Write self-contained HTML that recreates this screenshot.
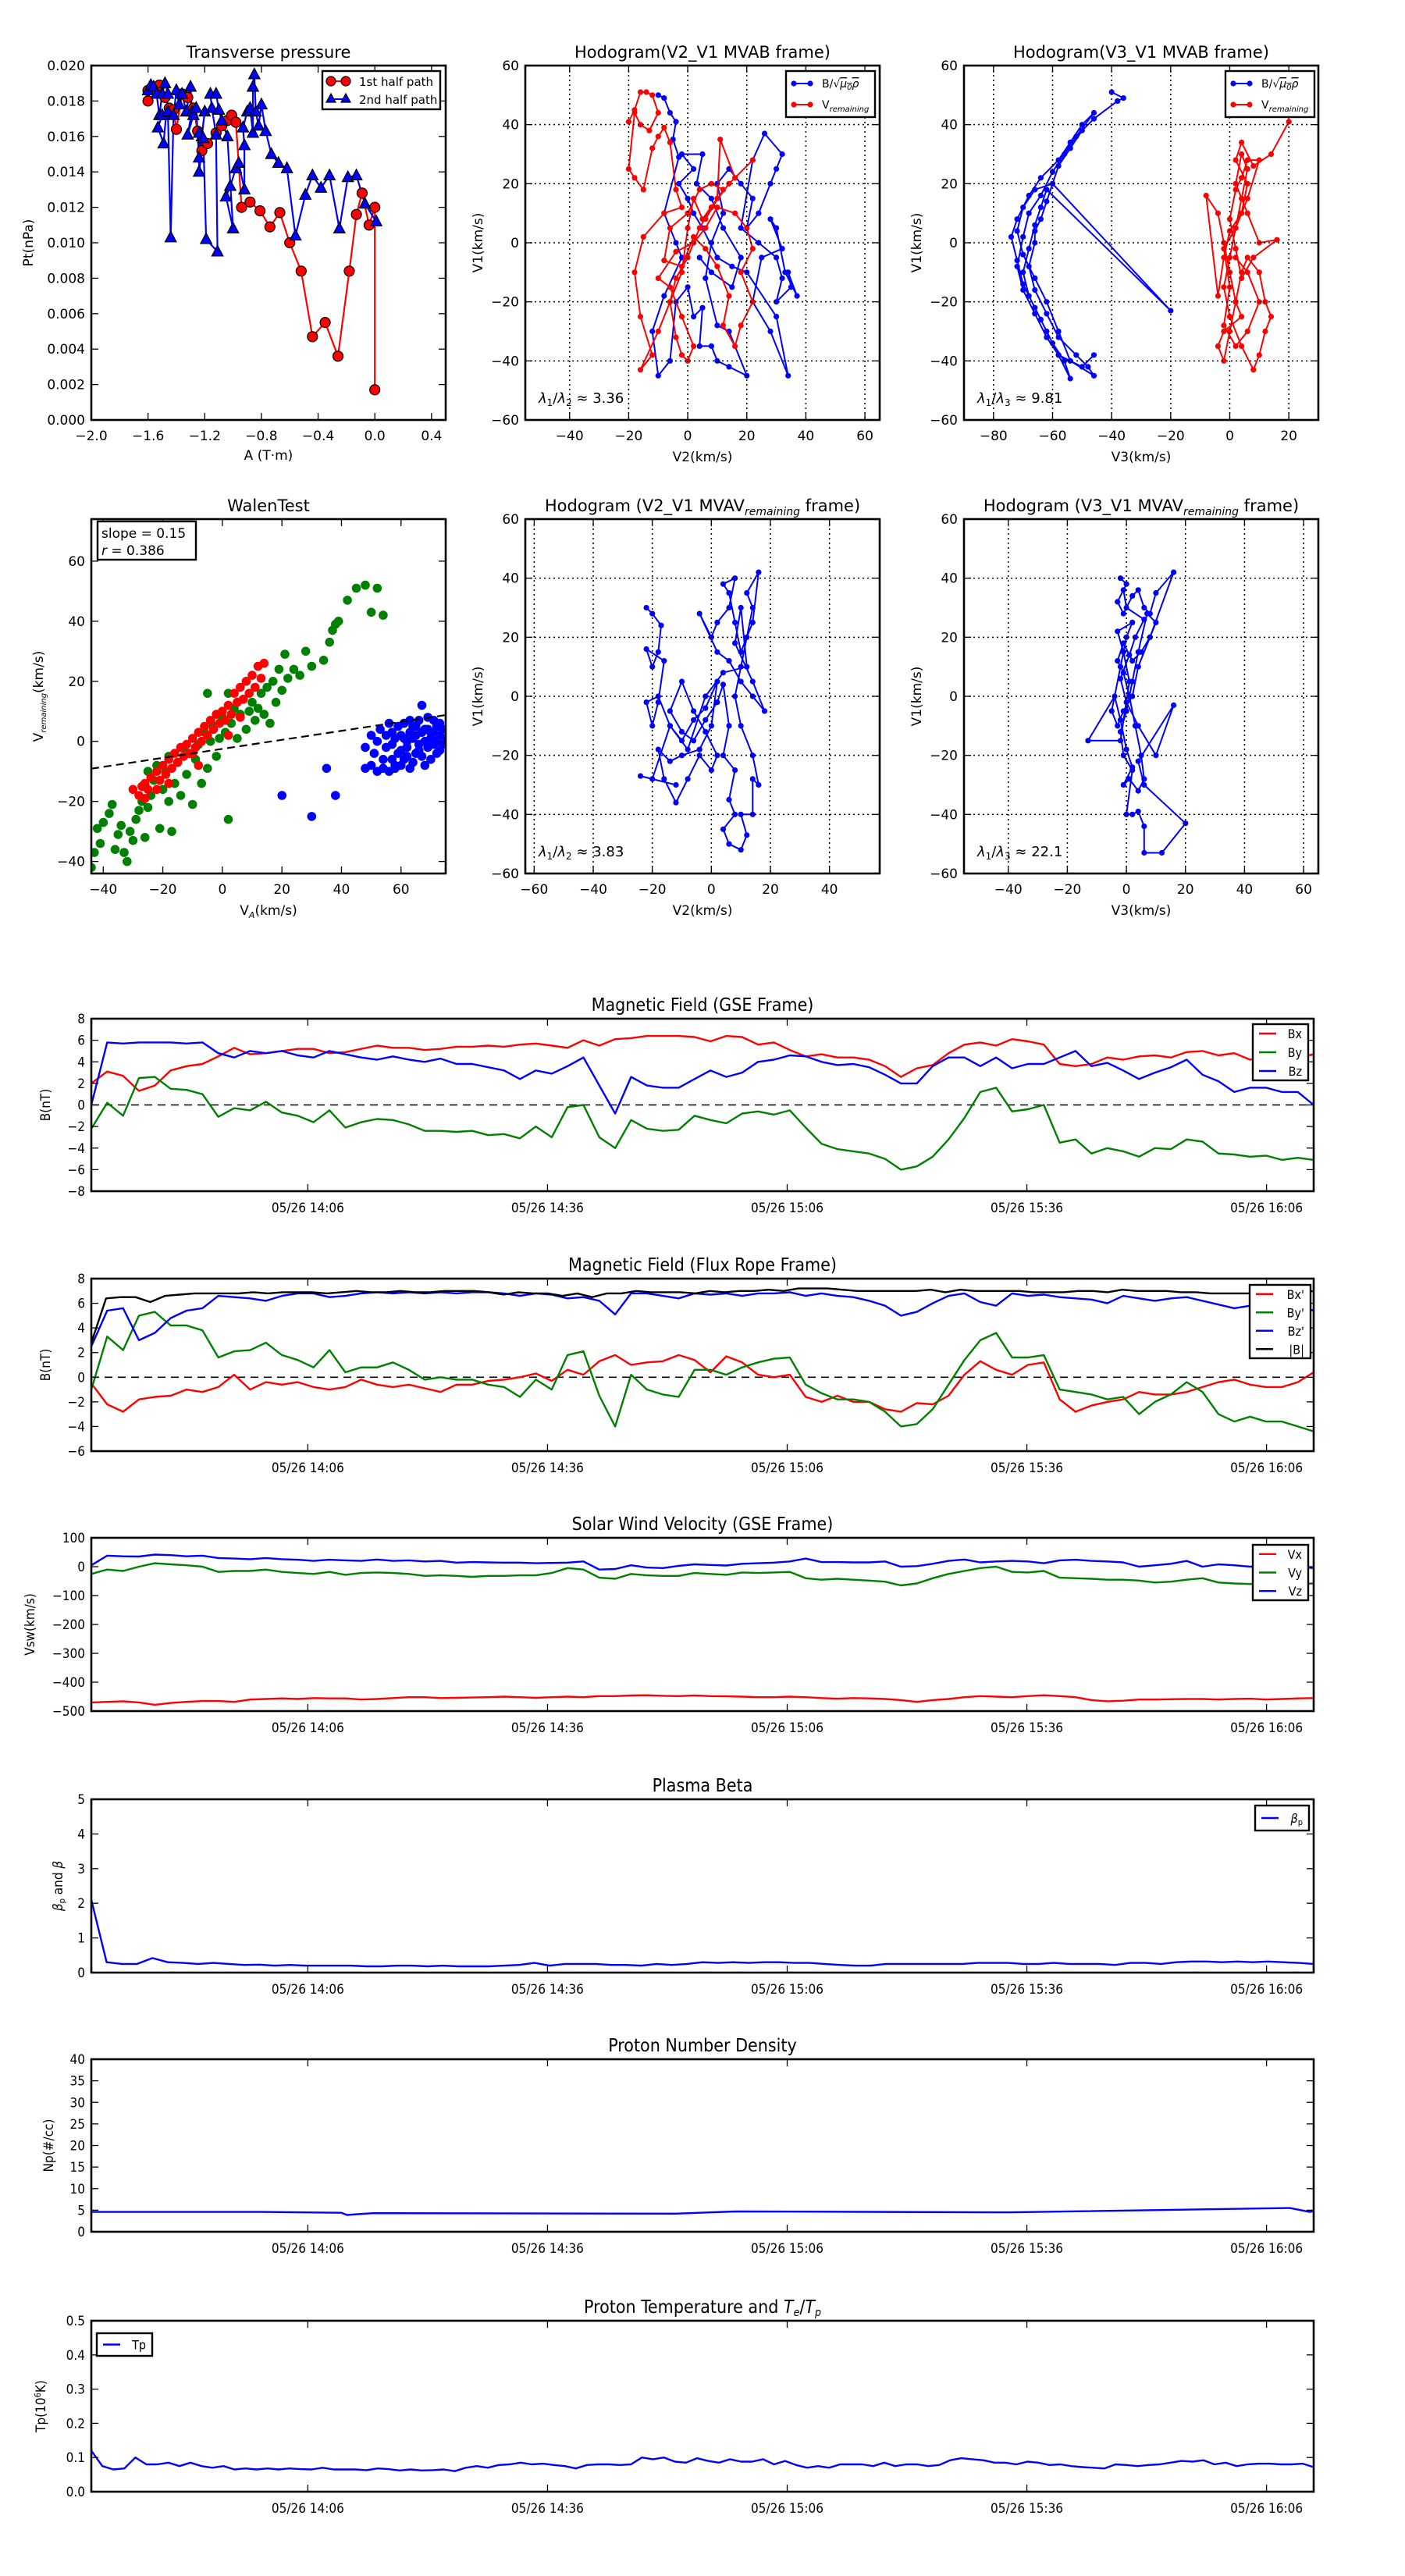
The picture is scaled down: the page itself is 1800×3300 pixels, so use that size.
<!DOCTYPE html>
<html><head><meta charset="utf-8">
<style>
html,body{margin:0;padding:0;background:#fff;}
svg{display:block;}
text{font-family:"DejaVu Sans","Liberation Sans",sans-serif;fill:#000;}
.c{font-family:"DejaVu Sans Condensed","DejaVu Sans","Liberation Sans",sans-serif;}
</style></head>
<body>
<svg id="fig" xmlns="http://www.w3.org/2000/svg" width="1800" height="3300" viewBox="0 0 1800 3300">
<rect x="0" y="0" width="1800" height="3300" fill="#fff"/>
</svg>
<script>
// ---------------- DATA ----------------
// Transverse pressure (A in T·m, Pt in 1e-3 nPa)
const tp1A=[-1.6,-1.6,-1.52,-1.48,-1.45,-1.42,-1.40,-1.36,-1.32,-1.28,-1.25,-1.22,-1.18,-1.12,-1.08,-1.04,-1.01,-0.98,-0.94,-0.88,-0.81,-0.74,-0.67,-0.60,-0.52,-0.44,-0.35,-0.26,-0.18,-0.13,-0.09,-0.04,0.0,0.0];
const tp1P=[18.0,18.6,18.9,18.2,17.6,17.5,16.4,18.4,18.2,17.6,16.3,15.2,15.6,16.2,16.6,16.9,17.2,16.8,12.0,12.3,11.8,10.9,11.7,10.0,8.4,4.7,5.5,3.6,8.4,11.6,12.8,11.0,12.0,1.7];
const tp2A=[-1.6,-1.58,-1.56,-1.54,-1.52,-1.50,-1.48,-1.46,-1.49,-1.53,-1.50,-1.46,-1.44,-1.42,-1.40,-1.38,-1.36,-1.33,-1.30,-1.29,-1.32,-1.28,-1.26,-1.24,-1.20,-1.22,-1.24,-1.24,-1.21,-1.19,-1.11,-1.12,-1.15,-1.16,-1.12,-1.10,-1.08,-1.04,-1.00,-1.05,-1.02,-0.98,-0.96,-0.92,-0.92,-0.93,-0.90,-0.88,-0.86,-0.86,-0.85,-0.84,-0.82,-0.80,-0.77,-0.73,-0.68,-0.62,-0.56,-0.49,-0.44,-0.38,-0.32,-0.25,-0.19,-0.13,-0.07,0.01];
const tp2P=[18.6,18.9,18.8,18.4,17.2,18.4,19.0,18.4,15.6,16.5,17.2,17.4,10.3,17.2,18.6,17.8,18.4,17.4,18.8,17.4,16.1,17.2,17.6,14.8,17.4,16.0,16.2,14.0,15.9,10.2,9.5,16.1,17.6,18.4,18.4,17.5,16.9,16.0,10.8,12.6,13.2,14.2,14.5,13.0,15.5,16.5,17.4,17.6,16.2,18.8,19.5,17.4,16.6,17.8,16.3,15.0,14.5,14.2,10.4,12.7,13.8,13.1,13.8,10.8,13.7,13.8,12.2,11.2];
// Hodogram V2-V1 MVAB
const hAbx=[-10,-8,-6,-4,-5,-3,-8,-4,-2,-8,-12,-10,-6,-4,0,2,5,4,8,10,14,20,14,10,6,8,12,10,14,18,22,20,24,28,30,32,26,22,18,24,30,32,30,35,34,37,33,30,28,32,25,22,28,34,30,20,15,10,5,2,0,-3,2,-2,5,3,8,12,18,15,8,4];
const hAby=[50,49,44,41,35,29,10,0,-5,-18,-30,-45,-40,-20,-15,-25,-22,-35,-35,-40,-42,-45,-30,-28,-12,0,10,20,25,20,15,5,10,20,25,30,37,28,5,0,-5,-12,-20,-15,-10,-18,-10,5,8,-2,-5,-20,-30,-45,-25,-10,-8,-5,5,10,15,20,25,30,30,20,15,5,-5,-15,-10,-5];
const hAvx=[-20,-18,-16,-14,-12,-10,-13,-16,-18,-20,-18,-15,-12,-10,-8,-6,-4,-2,-8,-15,-18,-16,-12,-16,-10,-6,-2,0,2,5,10,11,16,22,14,8,4,0,-4,-6,-4,-2,0,2,-2,-6,-10,-4,2,6,10,16,20,22,18,22,18,16,12,14,10,6,2,-2,-8,-6,0,4,8,12,6];
const hAvy=[41,45,51,51,50,44,38,40,44,25,22,18,32,36,39,34,18,12,10,2,-10,-25,-38,-43,-30,-20,-10,5,15,8,15,35,22,28,20,12,5,-5,-12,-20,-32,-38,-40,-35,-25,-15,-12,-3,0,5,12,10,5,-2,-10,-20,-28,-35,-28,-18,-8,-2,2,-8,-6,5,10,18,20,18,8];
// Hodogram V3-V1 MVAB
const hBbx=[-40,-36,-38,-46,-50,-54,-58,-60,-62,-64,-66,-66,-68,-66,-62,-58,-52,-48,-46,-54,-58,-62,-66,-70,-72,-70,-66,-60,-20,-62,-64,-66,-68,-70,-68,-64,-60,-56,-54,-58,-62,-66,-70,-72,-74,-72,-68,-64,-58,-54,-50,-46,-52,-56,-60,-64,-68,-70,-72,-70,-66,-62,-58,-50,-46];
const hBby=[51,49,48,42,38,32,26,20,14,8,4,0,-8,-16,-24,-32,-38,-42,-45,-40,-30,-20,-12,-4,4,12,18,20,-23,18,12,6,-2,-10,-18,-26,-34,-40,-46,-38,-30,-22,-14,-6,2,8,16,22,28,34,40,44,36,30,24,16,10,2,-8,-16,-24,-32,-38,-42,-38];
const hBvx=[20,14,8,4,2,6,4,0,-2,-4,-8,-4,-2,0,2,4,-2,-4,-2,0,2,4,6,10,12,14,12,10,8,4,0,-2,0,2,4,6,4,2,6,10,16,8,4,2,0,2,4,6,10,6,2,-2,0,-2,2,6,10,6,2];
const hBvy=[41,30,26,34,28,20,10,4,-5,-18,16,10,0,-10,-20,-25,-30,-35,-40,-30,-20,-10,-5,-10,-20,-25,-30,-38,-43,-35,-25,-15,-5,5,15,25,30,20,10,0,1,-5,-12,-2,8,18,22,28,28,15,5,-2,-15,-28,-35,-30,-20,-10,-5];
// Hodogram V2-V1 MVAV_remaining
const hCx=[-22,-20,-17,-18,-20,-22,-16,-18,-20,-22,-18,-14,-10,-6,-2,2,0,-4,-10,-14,-18,-16,-12,-8,-4,0,2,-2,-6,-10,-14,-10,-6,-2,2,4,6,4,8,6,8,4,6,10,12,10,14,14,16,14,10,8,10,12,14,12,16,14,10,8,6,4,8,6,2,0,-4,2,6,10,14,18,14,8,10,12,4,-2,-8,-14,-20,-24,-12];
const hCy=[30,28,24,15,10,16,12,-2,-10,-2,0,-10,-15,-8,-4,5,-10,-18,-20,-22,-18,-28,-36,-28,-20,-25,-20,-12,-5,5,-5,-12,-15,-8,-2,4,-10,-20,-25,-35,-40,-45,-50,-52,-47,-40,-40,-28,-30,-20,-10,0,10,20,30,35,42,25,15,25,35,38,40,30,25,20,28,15,12,5,0,-5,5,18,30,10,8,0,-18,-10,-28,-27,-30];
// Hodogram V3-V1 MVAV_remaining
const hDx=[-2,0,-3,-1,2,4,6,8,10,16,8,4,2,-1,-3,-5,-2,0,2,-3,-1,1,-2,-13,-4,-2,0,2,-1,1,4,6,5,3,1,-1,-3,-1,2,5,8,10,7,4,2,0,-2,-1,2,0,2,4,6,6,12,20,6,4,16,10,4,0,-2,1,3,6,0,-1];
const hDy=[40,38,32,28,34,36,30,28,35,42,20,10,0,-5,-10,-5,10,20,25,22,15,5,-15,-15,0,-8,-18,-24,-30,-28,-32,-28,-20,-10,0,8,12,18,12,15,20,25,28,15,5,-5,-12,-20,-25,-40,-40,-39,-44,-53,-53,-43,-30,-22,-3,-20,-10,-2,6,14,20,26,30,36];
// Walen test
const wRx=[-30,-28,-27,-26,-25,-24,-22,-21,-20,-19,-18,-17,-16,-15,-14,-13,-12,-11,-10,-9,-8,-7,-6,-5,-4,-3,-2,-1,0,1,2,3,4,5,6,7,8,9,10,11,12,13,14,6,-10,-18,-22,-8,2,-26];
const wRy=[-16,-18,-15,-19,-16,-12,-10,-13,-8,-11,-6,-9,-4,-7,-2,-5,-1,-4,1,-2,3,0,5,2,7,4,9,6,10,7,12,9,16,13,18,14,20,16,22,18,25,21,26,8,-4,-14,-16,-8,2,-14];
const wGx=[-44,-43,-42,-41,-40,-38,-37,-35,-34,-33,-32,-31,-30,-29,-28,-27,-26,-25,-24,-23,-22,-21,-20,-19,-18,-17,-16,-15,-14,-13,-12,-11,-10,-9,-8,-7,-6,-5,-4,-3,-2,-1,0,1,2,3,4,5,6,7,8,9,10,11,12,13,14,15,16,17,18,19,20,21,22,24,26,28,30,34,36,37,38,39,42,45,48,50,52,54,-5,2,-18,-25,-36];
const wGy=[-42,-37,-29,-34,-27,-24,-21,-31,-28,-37,-40,-30,-33,-26,-23,-20,-32,-22,-18,-13,-8,-29,-16,-10,-5,-30,-14,-7,-18,-2,-11,-4,-21,-6,-1,-14,3,-9,0,5,-5,1,8,3,-26,6,11,1,9,14,4,10,13,7,11,16,9,18,6,20,13,24,17,29,21,24,22,30,25,27,33,37,39,40,47,51,52,43,51,42,16,16,-20,-10,-36];
const wBx=[48,50,51,52,53,54,55,55,56,57,57,58,58,59,60,60,61,61,62,62,63,63,64,64,65,65,66,66,67,67,68,68,69,69,70,70,71,71,72,72,73,73,74,74,75,56,58,60,52,54,62,64,66,68,70,72,67,69,63,59,61,57,65,71,73,20,30,35,38,48,50];
const wBy=[-2,2,-4,0,4,-6,2,-2,6,-1,3,-8,1,5,-3,2,-6,6,0,-2,3,-9,1,5,-4,2,-1,7,3,-5,0,4,-2,8,1,-6,3,-1,5,0,-3,2,4,-1,1,-10,-9,-8,-10,-9,-5,-7,-3,-8,3,-4,12,4,7,-4,1,-6,5,7,6,-18,-25,-9,-18,-9,-8];
const walenSlope=0.15, walenIntercept=-2.5;
// Time series (minutes relative to 14:06), uniformly sampled over the window
const tStart=-27.1, tEnd=125.9;
const bx=[2,3.1,2.7,1.3,1.8,3.2,3.6,3.8,4.5,5.3,4.7,4.8,5.0,5.2,5.2,4.8,4.9,5.2,5.5,5.3,5.3,5.1,5.2,5.4,5.4,5.5,5.4,5.6,5.7,5.5,5.3,6.0,5.5,6.1,6.2,6.4,6.4,6.4,6.3,5.9,6.4,6.3,5.6,5.8,5.1,4.5,4.7,4.4,4.4,4.2,3.6,2.6,3.4,3.7,4.8,5.6,5.8,5.5,6.1,5.9,5.6,3.8,3.6,3.8,4.4,4.2,4.5,4.6,4.4,4.9,5.0,4.6,4.8,4.2,4.5,4.2,4.4,4.7];
const by=[-2.2,0.2,-1.0,2.5,2.6,1.5,1.4,1.0,-1.1,-0.3,-0.5,0.3,-0.7,-1.0,-1.6,-0.5,-2.1,-1.6,-1.3,-1.4,-1.8,-2.4,-2.4,-2.5,-2.4,-2.8,-2.7,-3.1,-2.0,-3.0,-0.2,0.0,-3.0,-4.0,-1.4,-2.2,-2.4,-2.3,-1.0,-1.4,-1.7,-0.8,-0.6,-0.9,-0.5,-2.1,-3.6,-4.1,-4.3,-4.5,-5.0,-6.0,-5.7,-4.8,-3.2,-1.2,1.2,1.6,-0.6,-0.4,0.0,-3.5,-3.2,-4.5,-4.0,-4.3,-4.8,-4.0,-4.1,-3.2,-3.4,-4.5,-4.6,-4.8,-4.7,-5.1,-4.9,-5.1];
const bz=[0,5.8,5.7,5.8,5.8,5.8,5.7,5.8,4.8,4.4,5.0,4.8,5.0,4.6,4.4,5.0,4.7,4.4,4.2,4.5,4.2,4.0,4.3,3.8,3.8,3.5,3.2,2.4,3.2,2.9,3.6,4.4,1.8,-0.8,2.6,1.8,1.6,1.6,2.4,3.2,2.6,3.0,4.0,4.2,4.6,4.5,4.0,3.7,3.8,3.5,2.8,2.0,2.0,3.6,4.4,4.4,3.6,4.4,3.4,3.8,3.8,4.4,5.0,3.6,3.9,3.2,2.4,3.0,3.5,4.2,2.8,2.2,1.2,1.6,1.6,1.2,1.2,0];
const fbx=[-0.5,-2.2,-2.8,-1.8,-1.6,-1.5,-1.0,-1.2,-0.8,0.2,-1.0,-0.4,-0.6,-0.4,-0.8,-1.0,-0.8,-0.2,-0.6,-0.8,-0.6,-0.9,-1.2,-0.6,-0.6,-0.3,-0.2,0.0,0.3,-0.3,0.6,0.2,1.3,1.8,1.0,1.2,1.3,1.8,1.4,0.4,1.7,1.2,0.2,0.0,0.2,-1.6,-2.0,-1.5,-2.0,-2.0,-2.6,-2.8,-2.1,-2.2,-1.5,0.2,1.3,0.6,0.2,1.0,1.2,-1.8,-2.8,-2.3,-2.0,-1.8,-1.2,-1.4,-1.4,-1.2,-0.8,-0.4,-0.2,-0.6,-0.8,-0.8,-0.4,0.4];
const fby=[-1,3.3,2.2,5.0,5.3,4.2,4.2,3.8,1.6,2.1,2.2,2.8,1.8,1.4,0.8,2.2,0.4,0.8,0.8,1.2,0.6,-0.2,0.0,-0.2,-0.2,-0.6,-0.8,-1.6,-0.2,-1.0,1.8,2.1,-1.5,-4.0,0.2,-1.0,-1.4,-1.6,0.6,0.6,0.2,0.8,1.2,1.5,1.6,-0.6,-1.3,-1.8,-1.8,-2.0,-2.8,-4.0,-3.8,-2.6,-0.6,1.4,3.0,3.6,1.6,1.6,1.8,-1.0,-1.2,-1.4,-1.8,-1.6,-3.0,-2.0,-1.4,-0.4,-1.2,-3.0,-3.6,-3.2,-3.6,-3.6,-4.0,-4.4];
const fbz=[2.5,5.4,5.6,3.0,3.6,4.8,5.4,5.6,6.6,6.5,6.4,6.2,6.6,6.8,6.8,6.5,6.6,6.8,6.9,6.8,6.9,6.8,6.9,6.8,6.9,6.9,6.8,6.6,6.8,6.7,6.4,6.5,6.2,5.1,6.8,6.8,6.6,6.4,6.8,6.7,6.8,6.6,6.8,6.8,6.9,6.6,6.8,6.6,6.5,6.2,5.8,5.0,5.3,6.0,6.6,6.8,6.1,5.8,6.8,6.6,6.7,6.5,6.4,6.3,6.0,6.6,6.4,6.2,6.4,6.5,6.2,5.9,5.6,5.8,6.4,5.8,5.8,5.4];
const fbt=[2.8,6.4,6.5,6.5,6.1,6.6,6.7,6.8,6.8,6.8,6.8,6.9,6.8,6.9,6.9,6.9,6.8,6.9,7.0,6.9,6.9,7.0,6.9,6.9,7.0,7.0,7.0,6.9,6.7,6.9,6.8,6.8,6.6,6.8,6.5,6.8,6.8,7.0,6.9,6.9,6.9,6.8,7.0,6.9,7.0,7.0,7.1,7.0,7.2,7.2,7.2,7.1,7.0,7.0,7.0,7.0,7.0,7.1,6.9,7.1,7.0,7.0,7.0,7.0,6.9,6.9,6.9,7.0,7.0,6.9,7.1,7.0,7.0,7.0,6.9,6.9,6.8,6.8,6.8,6.8,6.8,6.5,6.8,7.0];
const vx=[-470,-468,-466,-470,-478,-472,-468,-465,-465,-468,-460,-458,-456,-458,-455,-456,-456,-460,-458,-455,-452,-452,-455,-454,-453,-452,-450,-452,-454,-452,-450,-452,-448,-448,-446,-445,-447,-448,-446,-448,-449,-450,-452,-452,-450,-452,-455,-457,-455,-456,-458,-462,-468,-462,-458,-452,-448,-450,-452,-448,-445,-448,-452,-462,-466,-464,-460,-460,-459,-458,-458,-460,-458,-457,-460,-458,-456,-455];
const vy=[-25,-10,-15,0,12,8,5,0,-18,-15,-15,-10,-18,-22,-25,-18,-28,-22,-20,-22,-25,-32,-30,-32,-35,-32,-32,-30,-30,-22,-5,-10,-38,-42,-25,-30,-32,-32,-22,-25,-28,-20,-22,-20,-18,-40,-45,-42,-45,-48,-52,-65,-58,-40,-25,-15,-5,0,-18,-20,-15,-38,-40,-42,-45,-45,-48,-55,-52,-45,-40,-55,-58,-60,-58,-62,-60,-58];
const vz=[5,38,36,35,42,40,36,38,30,28,26,30,26,24,20,24,22,20,25,20,22,18,20,14,16,15,14,14,12,13,14,18,-10,-8,5,-3,-5,3,8,6,4,10,12,14,18,28,16,16,15,15,18,0,2,10,20,25,15,18,20,18,12,22,24,20,18,15,0,5,10,20,0,8,5,0,3,0,0,-5];
const beta=[2.1,0.3,0.25,0.25,0.42,0.3,0.28,0.25,0.28,0.25,0.22,0.23,0.2,0.22,0.2,0.2,0.2,0.2,0.18,0.18,0.2,0.2,0.18,0.2,0.18,0.18,0.18,0.2,0.22,0.28,0.2,0.25,0.25,0.25,0.22,0.22,0.2,0.25,0.22,0.25,0.3,0.28,0.3,0.28,0.3,0.3,0.28,0.28,0.25,0.22,0.2,0.2,0.25,0.25,0.25,0.25,0.25,0.25,0.28,0.28,0.28,0.25,0.25,0.28,0.25,0.25,0.25,0.22,0.28,0.28,0.25,0.3,0.32,0.32,0.3,0.32,0.3,0.32,0.3,0.28,0.25];
const npTimes=[-27.1,-5.8,4.2,4.9,8.1,46,53.5,88,122.9,125.4,125.9];
const npVals=[4.6,4.6,4.4,3.9,4.3,4.2,4.7,4.5,5.5,4.6,4.8];
const tp=[0.12,0.075,0.065,0.068,0.1,0.08,0.08,0.085,0.075,0.085,0.075,0.07,0.075,0.065,0.068,0.065,0.068,0.065,0.068,0.066,0.065,0.07,0.065,0.065,0.065,0.063,0.068,0.066,0.062,0.065,0.062,0.063,0.065,0.06,0.07,0.075,0.07,0.078,0.08,0.085,0.08,0.082,0.078,0.075,0.068,0.078,0.08,0.08,0.078,0.08,0.1,0.095,0.1,0.088,0.085,0.098,0.09,0.085,0.095,0.088,0.088,0.095,0.08,0.09,0.078,0.07,0.075,0.07,0.08,0.08,0.08,0.075,0.085,0.075,0.08,0.08,0.075,0.078,0.092,0.098,0.095,0.092,0.085,0.085,0.08,0.088,0.085,0.078,0.08,0.075,0.072,0.07,0.068,0.08,0.078,0.075,0.078,0.08,0.085,0.09,0.088,0.092,0.08,0.085,0.075,0.08,0.082,0.082,0.08,0.08,0.082,0.072];
const timeTicks=[0,30,60,90,120];
const timeTickLabels=['05/26 14:06','05/26 14:36','05/26 15:06','05/26 15:36','05/26 16:06'];

// ---------------- DRAWING ----------------
const NS='http://www.w3.org/2000/svg';
const svg=document.getElementById('fig');
let clipId=0;
function mk(tag,attrs,parent,name){
  const el=document.createElementNS(NS,tag);
  for(const k in attrs) el.setAttribute(k,attrs[k]);
  
  
  (parent||svg).appendChild(el);
  return el;
}
function txt(s,x,y,size,parent,name,anchor,cls,extra){
  const t=mk('text',Object.assign({x:x,y:y,'font-size':size,'text-anchor':anchor||'middle'},extra||{}),parent,name);
  if(cls) t.setAttribute('class',cls);
  t.textContent=s;
  return t;
}
function fmtNum(v,d){const s=v.toFixed(d);return s.replace('-','\u2212');}
function axes(o){
  const g=mk('g',{},svg,o.name+'-panel');
  const a=Object.assign({},o);
  a.g=g;
  a.sx=v=>o.x+(v-o.xd[0])/(o.xd[1]-o.xd[0])*o.w;
  a.sy=v=>o.y+o.h-(v-o.yd[0])/(o.yd[1]-o.yd[0])*o.h;
  const id='clip'+(clipId++);
  const cp=mk('clipPath',{id:id},g,o.name+'-clip');
  mk('rect',{x:o.x,y:o.y,width:o.w,height:o.h},cp,o.name+'-clip-rect');
  a.plot=mk('g',{'clip-path':'url(#'+id+')'},g,o.name+'-plot-area');
  return a;
}
function frameTicks(a,xt,xl,yt,yl,opt){
  opt=opt||{};
  const fs=opt.fs||17, cls=opt.cls||'';
  const gg=mk('g',{},a.g,a.name+'-ticks');
  xt.forEach((v,i)=>{
    const X=a.sx(v);
    if(opt.grid) mk('line',{x1:X,y1:a.y,x2:X,y2:a.y+a.h,stroke:'#000','stroke-width':1.5,'stroke-dasharray':'2,4'},gg,'x-grid-line');
    mk('line',{x1:X,y1:a.y+a.h,x2:X,y2:a.y+a.h-9,stroke:'#000','stroke-width':1.3},gg,'x-tick');
    mk('line',{x1:X,y1:a.y,x2:X,y2:a.y+9,stroke:'#000','stroke-width':1.3},gg,'x-tick-top');
    txt(xl[i],X,a.y+a.h+(opt.xlOff||26),fs,gg,'x-tick-label','middle',cls);
  });
  yt.forEach((v,i)=>{
    const Y=a.sy(v);
    if(opt.grid) mk('line',{x1:a.x,y1:Y,x2:a.x+a.w,y2:Y,stroke:'#000','stroke-width':1.5,'stroke-dasharray':'2,4'},gg,'y-grid-line');
    mk('line',{x1:a.x,y1:Y,x2:a.x+9,y2:Y,stroke:'#000','stroke-width':1.3},gg,'y-tick');
    mk('line',{x1:a.x+a.w,y1:Y,x2:a.x+a.w-9,y2:Y,stroke:'#000','stroke-width':1.3},gg,'y-tick-right');
    txt(yl[i],a.x-8,Y+6,fs,gg,'y-tick-label','end',cls);
  });
}
function frame(a){
  mk('rect',{x:a.x,y:a.y,width:a.w,height:a.h,fill:'none',stroke:'#000','stroke-width':2.6},a.g,a.name+'-frame');
}
function range(a,b,s){const r=[];for(let v=a;v<=b+1e-9;v+=s)r.push(Math.round(v*1e6)/1e6);return r;}
function polyline(a,xs,ys,color,w,name){
  const pts=xs.map((x,i)=>a.sx(x).toFixed(1)+','+a.sy(ys[i]).toFixed(1)).join(' ');
  return mk('polyline',{points:pts,fill:'none',stroke:color,'stroke-width':w,'stroke-linejoin':'round'},a.plot,name);
}
function dots(a,xs,ys,color,r,name,edge){
  const g=mk('g',{},a.plot,name);
  xs.forEach((x,i)=>{
    const c=mk('circle',{cx:a.sx(x).toFixed(1),cy:a.sy(ys[i]).toFixed(1),r:r,fill:color},g,name+'-point');
    if(edge){c.setAttribute('stroke','#000');c.setAttribute('stroke-width',1.2);}
  });
  return g;
}
function tris(a,xs,ys,color,s,name){
  const g=mk('g',{},a.plot,name);
  xs.forEach((x,i)=>{
    const X=a.sx(x),Y=a.sy(ys[i]);
    mk('polygon',{points:`${X},${Y-s} ${X-s*0.9},${Y+s*0.7} ${X+s*0.9},${Y+s*0.7}`,fill:color,stroke:'#000','stroke-width':1.2},g,name+'-point');
  });
  return g;
}
function ylabel(s,x,y,size,parent,name,cls){
  const t=txt(s,x,y,size,parent,name,'middle',cls,{transform:`rotate(-90 ${x} ${y})`});
  return t;
}
function legendBox(parent,x,y,w,h,name){
  return mk('rect',{x:x,y:y,width:w,height:h,fill:'#fff',stroke:'#000','stroke-width':2.4},parent,name);
}

// ---------- Row 1: Transverse pressure ----------
(function(){
  const a=axes({name:'transverse-pressure',x:117,y:84,w:454,h:454,xd:[-2.0,0.5],yd:[0,20]});
  txt('Transverse pressure',a.x+a.w/2,74,21,a.g,'transverse-pressure-title');
  frameTicks(a,range(-2,0.4,0.4),['\u22122.0','\u22121.6','\u22121.2','\u22120.8','\u22120.4','0.0','0.4'],range(0,20,2),range(0,20,2).map(v=>(v/1000).toFixed(3)));
  polyline(a,tp1A,tp1P,'#f00',2.2,'first-half-line');
  polyline(a,tp2A,tp2P,'#00f',2.2,'second-half-line');
  dots(a,tp1A,tp1P,'#f00',6.5,'first-half-markers',true);
  tris(a,tp2A,tp2P,'#00f',8,'second-half-markers');
  frame(a);
  txt('A (T\u00b7m)',a.x+a.w/2,589,17,a.g,'x-axis-title');
  ylabel('Pt(nPa)',42,a.y+a.h/2,17,a.g,'y-axis-title');
  const lg=mk('g',{},a.g,'legend');
  legendBox(lg,413,91,151,49,'legend-box');
  mk('line',{x1:424,y1:104,x2:443,y2:104,stroke:'#f00','stroke-width':2},lg,'legend-line-1st');
  mk('circle',{cx:424,cy:104,r:6,fill:'#f00',stroke:'#000','stroke-width':1.2},lg,'legend-marker-1st');
  mk('circle',{cx:443,cy:104,r:6,fill:'#f00',stroke:'#000','stroke-width':1.2},lg,'legend-marker-1st');
  txt('1st half path',460,110,15,lg,'legend-label-1st','start');
  mk('line',{x1:424,y1:127,x2:443,y2:127,stroke:'#00f','stroke-width':2},lg,'legend-line-2nd');
  mk('polygon',{points:'424,120 418,131 430,131',fill:'#00f',stroke:'#000','stroke-width':1.2},lg,'legend-marker-2nd');
  mk('polygon',{points:'443,120 437,131 449,131',fill:'#00f',stroke:'#000','stroke-width':1.2},lg,'legend-marker-2nd');
  txt('2nd half path',460,133,15,lg,'legend-label-2nd','start');
})();

function hodo(o){
  const a=axes(o);
  const gt=mk('text',{x:a.x+a.w/2,y:a.y-10,'font-size':21,'text-anchor':'middle'},a.g,o.name+'-title');
  gt.innerHTML=o.titleHTML;
  frameTicks(a,o.xt,o.xt.map(v=>fmtNum(v,0)),o.yt,o.yt.map(v=>fmtNum(v,0)),{grid:true});
  o.series.forEach(s=>{
    polyline(a,s.x,s.y,s.c,2,s.name+'-line');
    dots(a,s.x,s.y,s.c,3.6,s.name+'-points');
  });
  frame(a);
  txt(o.xlabel,a.x+a.w/2,a.y+a.h+53,17,a.g,'x-axis-title');
  ylabel('V1(km/s)',a.x-55,a.y+a.h/2,17,a.g,'y-axis-title');
  const lt=mk('text',{x:a.x+17,y:a.y+a.h-22,'font-size':18,'text-anchor':'start'},a.g,'eigenvalue-ratio');
  lt.innerHTML=o.lambda;
  if(o.legend){
    const lg=mk('g',{},a.g,'legend');
    const L=o.legend;
    legendBox(lg,L.x,L.y,114,59,'legend-box');
    o.series.forEach((s,i)=>{
      const yy=L.y+16+i*27;
      mk('line',{x1:L.x+10,y1:yy,x2:L.x+31,y2:yy,stroke:s.c,'stroke-width':2},lg,'legend-line');
      mk('circle',{cx:L.x+10,cy:yy,r:3.6,fill:s.c},lg,'legend-marker');
      mk('circle',{cx:L.x+31,cy:yy,r:3.6,fill:s.c},lg,'legend-marker');
      const t=mk('text',{x:L.x+46,y:yy+5,'font-size':14,'text-anchor':'start'},lg,'legend-label');
      t.innerHTML=s.label;
    });
  }
  return a;
}
const labB='B/\u221a<tspan font-style="italic" text-decoration="overline">\u03bc<tspan font-size="10" dy="3">0</tspan><tspan dy="-3">\u03c1</tspan></tspan>';
const labV='V<tspan font-style="italic" font-size="10" dy="4">remaining</tspan>';
hodo({name:'hodogram-v2-v1-mvab',x:673,y:84,w:454,h:454,xd:[-55,65],yd:[-60,60],xt:range(-40,60,20),yt:range(-60,60,20),
  titleHTML:'Hodogram(V2_V1 MVAB frame)',xlabel:'V2(km/s)',
  lambda:'<tspan font-style="italic">\u03bb</tspan><tspan font-size="12" dy="4">1</tspan><tspan dy="-4">/</tspan><tspan font-style="italic">\u03bb</tspan><tspan font-size="12" dy="4">2</tspan><tspan dy="-4"> \u2248 3.36</tspan>',
  legend:{x:1007,y:91},
  series:[{x:hAbx,y:hAby,c:'#00f',name:'b-field',label:labB},{x:hAvx,y:hAvy,c:'#f00',name:'v-remaining',label:labV}]});
hodo({name:'hodogram-v3-v1-mvab',x:1235,y:84,w:454,h:454,xd:[-90,30],yd:[-60,60],xt:range(-80,20,20),yt:range(-60,60,20),
  titleHTML:'Hodogram(V3_V1 MVAB frame)',xlabel:'V3(km/s)',
  lambda:'<tspan font-style="italic">\u03bb</tspan><tspan font-size="12" dy="4">1</tspan><tspan dy="-4">/</tspan><tspan font-style="italic">\u03bb</tspan><tspan font-size="12" dy="4">3</tspan><tspan dy="-4"> \u2248 9.81</tspan>',
  legend:{x:1570,y:91},
  series:[{x:hBbx,y:hBby,c:'#00f',name:'b-field',label:labB},{x:hBvx,y:hBvy,c:'#f00',name:'v-remaining',label:labV}]});
hodo({name:'hodogram-v2-v1-mvav',x:673,y:665,w:454,h:454,xd:[-63,57],yd:[-60,60],xt:range(-60,40,20),yt:range(-60,60,20),
  titleHTML:'Hodogram (V2_V1 MVAV<tspan font-style="italic" font-size="14" dy="5">remaining</tspan><tspan dy="-5"> frame)</tspan>',xlabel:'V2(km/s)',
  lambda:'<tspan font-style="italic">\u03bb</tspan><tspan font-size="12" dy="4">1</tspan><tspan dy="-4">/</tspan><tspan font-style="italic">\u03bb</tspan><tspan font-size="12" dy="4">2</tspan><tspan dy="-4"> \u2248 3.83</tspan>',
  series:[{x:hCx,y:hCy,c:'#00f',name:'b-field'}]});
hodo({name:'hodogram-v3-v1-mvav',x:1235,y:665,w:454,h:454,xd:[-55,65],yd:[-60,60],xt:range(-40,60,20),yt:range(-60,60,20),
  titleHTML:'Hodogram (V3_V1 MVAV<tspan font-style="italic" font-size="14" dy="5">remaining</tspan><tspan dy="-5"> frame)</tspan>',xlabel:'V3(km/s)',
  lambda:'<tspan font-style="italic">\u03bb</tspan><tspan font-size="12" dy="4">1</tspan><tspan dy="-4">/</tspan><tspan font-style="italic">\u03bb</tspan><tspan font-size="12" dy="4">3</tspan><tspan dy="-4"> \u2248 22.1</tspan>',
  series:[{x:hDx,y:hDy,c:'#00f',name:'b-field'}]});

// ---------- Walen test ----------
(function(){
  const a=axes({name:'walen-test',x:117,y:665,w:454,h:454,xd:[-44,75],yd:[-44,74]});
  txt('WalenTest',a.x+a.w/2,a.y-10,21,a.g,'walen-test-title');
  frameTicks(a,range(-40,60,20),range(-40,60,20).map(v=>fmtNum(v,0)),range(-40,60,20),range(-40,60,20).map(v=>fmtNum(v,0)));
  dots(a,wBx,wBy,'#00f',5.8,'walen-blue-points');
  dots(a,wGx,wGy,'#008000',5.8,'walen-green-points');
  dots(a,wRx,wRy,'#f00',5.8,'walen-red-points');
  mk('line',{x1:a.sx(-44),y1:a.sy(walenSlope*-44+walenIntercept),x2:a.sx(75),y2:a.sy(walenSlope*75+walenIntercept),stroke:'#000','stroke-width':2.2,'stroke-dasharray':'10,6'},a.plot,'walen-fit-line');
  frame(a);
  const tb=mk('g',{},a.g,'walen-stats-box');
  legendBox(tb,125,668,126,49,'stats-box-frame');
  txt('slope = 0.15',130,689,17,tb,'slope-text','start');
  const r=mk('text',{x:130,y:711,'font-size':17,'text-anchor':'start'},tb,'r-text');
  r.innerHTML='<tspan font-style="italic">r</tspan> = 0.386';
  const xl=mk('text',{x:a.x+a.w/2,y:a.y+a.h+53,'font-size':17,'text-anchor':'middle'},a.g,'x-axis-title');
  xl.innerHTML='V<tspan font-style="italic" font-size="11" dy="4">A</tspan><tspan dy="-4">(km/s)</tspan>';
  const yl=mk('text',{x:55,y:a.y+a.h/2,'font-size':17,'text-anchor':'middle',transform:`rotate(-90 55 ${a.y+a.h/2})`},a.g,'y-axis-title');
  yl.innerHTML='V<tspan font-style="italic" font-size="10" dy="4">remaining</tspan><tspan dy="-4">(km/s)</tspan>';
})();

// ---------- Time series ----------
function uniformTimes(n){const r=[];for(let i=0;i<n;i++)r.push(tStart+(tEnd-tStart)*i/(n-1));return r;}
function tsPanel(o){
  const a=axes({name:o.name,x:117,y:o.y,w:1566,h:o.h,xd:[tStart,tEnd],yd:o.yd});
  const t=mk('text',{x:a.x+a.w/2,y:a.y-10,'font-size':23,'text-anchor':'middle',class:'c'},a.g,o.name+'-title');
  t.innerHTML=o.title;
  frameTicks(a,timeTicks,timeTickLabels,o.yt,o.yt.map(v=>fmtNum(v,o.dec||0)),{fs:17,cls:'c',xlOff:27});
  if(o.zero) mk('line',{x1:a.x,y1:a.sy(0),x2:a.x+a.w,y2:a.sy(0),stroke:'#000','stroke-width':1.6,'stroke-dasharray':'10,7'},a.plot,'zero-line');
  o.series.forEach(s=>{
    const ts=s.t||uniformTimes(s.v.length);
    polyline(a,ts,s.v,s.c,2.4,s.name+'-line');
  });
  frame(a);
  const yl=mk('text',{x:o.ylx,y:a.y+a.h/2,'font-size':17,'text-anchor':'middle',class:'c',transform:`rotate(-90 ${o.ylx} ${a.y+a.h/2})`},a.g,'y-axis-title');
  yl.innerHTML=o.ylabel;
  if(o.legend){
    const L=o.legend;
    const lg=mk('g',{},a.g,'legend');
    legendBox(lg,L.x,L.y,L.w,L.h,'legend-box');
    o.series.forEach((s,i)=>{
      const yy=L.y+L.h/(o.series.length)*(i+0.5);
      mk('line',{x1:L.x+8,y1:yy,x2:L.x+30,y2:yy,stroke:s.c,'stroke-width':2.4},lg,'legend-line');
      const lt=mk('text',{x:L.x+L.w-8,y:yy+6,'font-size':16,'text-anchor':'end',class:'c'},lg,'legend-label');
      lt.innerHTML=s.label;
    });
  }
}
tsPanel({name:'magnetic-field-gse',y:1305,h:221,yd:[-8,8],yt:range(-8,8,2),title:'Magnetic Field (GSE Frame)',ylabel:'B(nT)',ylx:64,zero:true,
  legend:{x:1605,y:1312,w:71,h:72},
  series:[{v:bx,c:'#f00',name:'bx',label:'Bx'},{v:by,c:'#008000',name:'by',label:'By'},{v:bz,c:'#00f',name:'bz',label:'Bz'}]});
tsPanel({name:'magnetic-field-flux-rope',y:1638,h:221,yd:[-6,8],yt:range(-6,8,2),title:'Magnetic Field (Flux Rope Frame)',ylabel:'B(nT)',ylx:64,zero:true,
  legend:{x:1601,y:1646,w:78,h:94},
  series:[{v:fbx,c:'#f00',name:'bx-prime',label:"Bx'"},{v:fby,c:'#008000',name:'by-prime',label:"By'"},{v:fbz,c:'#00f',name:'bz-prime',label:"Bz'"},{v:fbt,c:'#000',name:'b-total',label:'|B|'}]});
tsPanel({name:'solar-wind-velocity',y:1970,h:222,yd:[-500,100],yt:range(-500,100,100),title:'Solar Wind Velocity (GSE Frame)',ylabel:'Vsw(km/s)',ylx:44,
  legend:{x:1605,y:1979,w:71,h:71},
  series:[{v:vx,c:'#f00',name:'vx',label:'Vx'},{v:vy,c:'#008000',name:'vy',label:'Vy'},{v:vz,c:'#00f',name:'vz',label:'Vz'}]});
tsPanel({name:'plasma-beta',y:2305,h:222,yd:[0,5],yt:range(0,5,1),title:'Plasma Beta',ylabel:'<tspan font-style="italic">\u03b2</tspan><tspan font-size="11" dy="3">p</tspan><tspan dy="-3"> and </tspan><tspan font-style="italic">\u03b2</tspan>',ylx:80,
  legend:{x:1608,y:2313,w:69,h:32},
  series:[{v:beta,c:'#00f',name:'beta-p',label:'<tspan font-style="italic">\u03b2</tspan><tspan font-size="11" dy="3">p</tspan>'}]});
tsPanel({name:'proton-number-density',y:2638,h:221,yd:[0,40],yt:range(0,40,5),title:'Proton Number Density',ylabel:'Np(#/cc)',ylx:68,
  series:[{t:npTimes,v:npVals,c:'#00f',name:'np'}]});
tsPanel({name:'proton-temperature',y:2973,h:219,yd:[0,0.5],yt:range(0,0.5,0.1),dec:1,title:'Proton Temperature and <tspan font-style="italic">T</tspan><tspan font-style="italic" font-size="14" dy="4">e</tspan><tspan dy="-4">/</tspan><tspan font-style="italic">T</tspan><tspan font-style="italic" font-size="14" dy="4">p</tspan>',ylabel:'Tp(10<tspan font-size="11" dy="-6">6</tspan><tspan dy="6">K)</tspan>',ylx:58,
  legend:{x:124,y:2989,w:71,h:29},
  series:[{v:tp,c:'#00f',name:'tp',label:'Tp'}]});
</script>
</body></html>
